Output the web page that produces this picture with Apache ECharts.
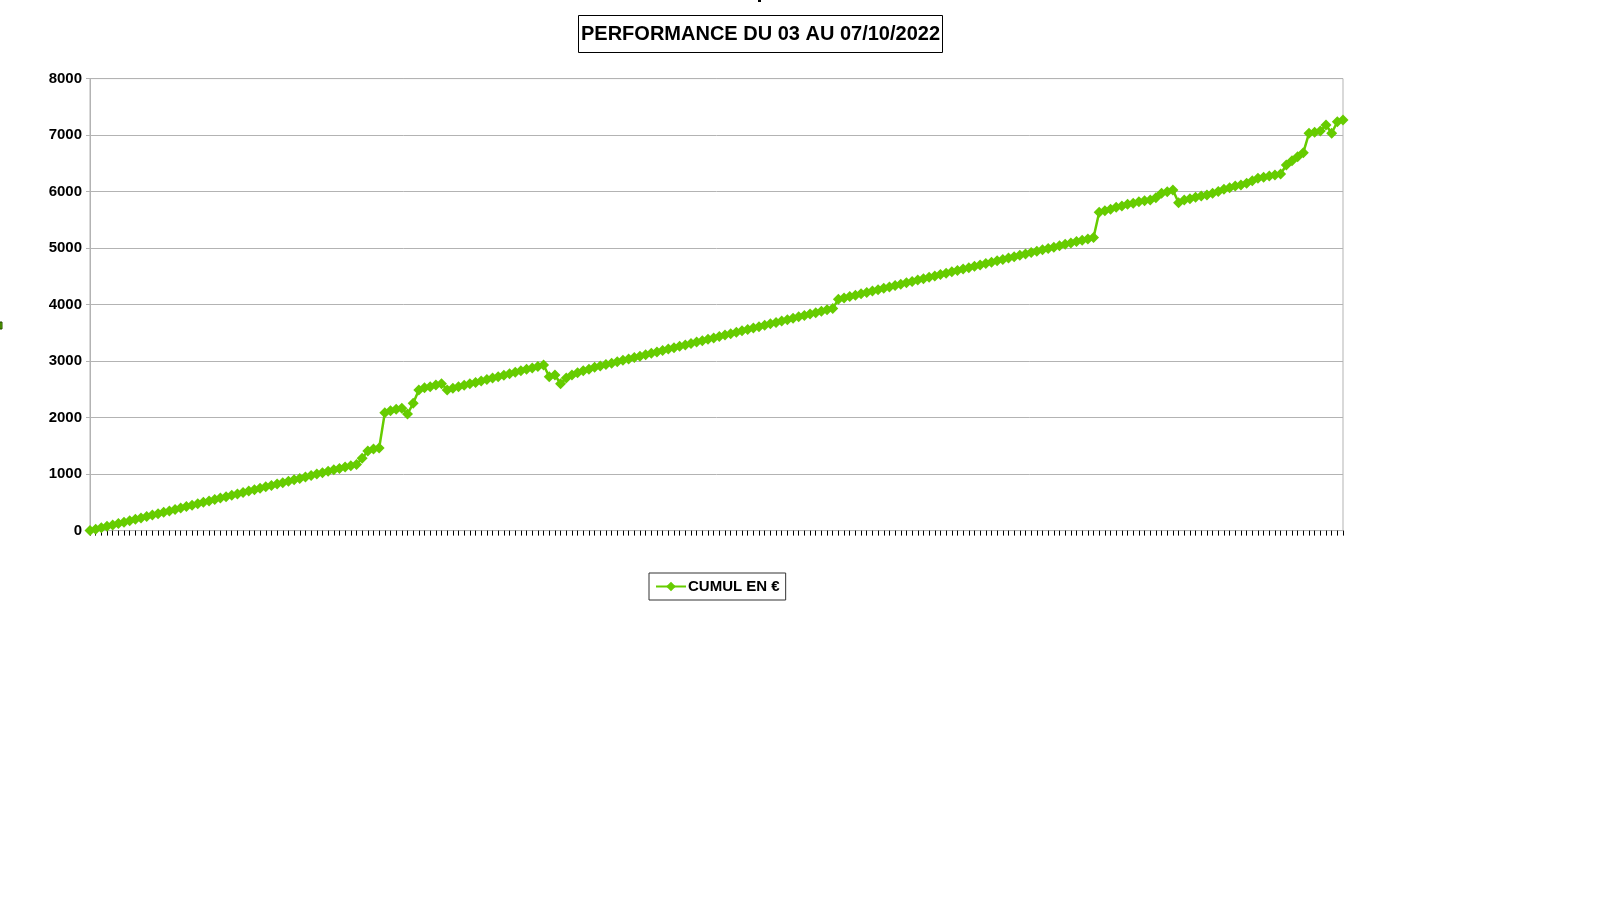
<!DOCTYPE html>
<html>
<head>
<meta charset="utf-8">
<script src="https://cdn.jsdelivr.net/npm/echarts@6/dist/echarts.min.js"></script>
<style>
html,body{margin:0;padding:0;background:#fff;}
#chart{width:1600px;height:900px;}
</style>
</head>
<body>
<div id="chart"></div>
<script>
const titleText = 'PERFORMANCE DU 03 AU 07/10/2022';
const seriesName = 'CUMUL EN €';
const yTicks = [0, 1000, 2000, 3000, 4000, 5000, 6000, 7000, 8000];
const cumul = [
  0, 24, 50, 75, 99, 124, 150, 175, 200, 224,
  249, 275, 300, 325, 349, 374, 400, 425, 449, 474,
  500, 524, 549, 575, 600, 624, 649, 675, 700, 724,
  749, 775, 800, 824, 849, 875, 900, 924, 949, 975,
  1000, 1024, 1049, 1075, 1100, 1124, 1149, 1170, 1280, 1410,
  1445, 1460, 2087, 2120, 2147, 2165, 2064, 2253, 2488, 2529,
  2547, 2577, 2600, 2490, 2518, 2545, 2571, 2597, 2622, 2648,
  2674, 2700, 2725, 2751, 2777, 2802, 2828, 2854, 2880, 2905,
  2931, 2724, 2754, 2600, 2700, 2755, 2795, 2830, 2855, 2890,
  2915, 2940, 2964, 2989, 3014, 3039, 3064, 3088, 3113, 3138,
  3163, 3188, 3212, 3237, 3262, 3287, 3312, 3336, 3361, 3386,
  3411, 3436, 3460, 3485, 3510, 3535, 3560, 3584, 3609, 3634,
  3659, 3684, 3708, 3733, 3758, 3783, 3808, 3832, 3857, 3882,
  3907, 3932, 4094, 4118, 4143, 4167, 4191, 4216, 4240, 4264,
  4288, 4313, 4337, 4361, 4386, 4410, 4434, 4459, 4483, 4507,
  4531, 4556, 4580, 4604, 4629, 4653, 4677, 4702, 4726, 4750,
  4774, 4799, 4823, 4847, 4872, 4896, 4920, 4945, 4969, 4993,
  5017, 5042, 5066, 5090, 5115, 5139, 5163, 5188, 5634, 5662,
  5686, 5722, 5745, 5775, 5792, 5822, 5840, 5851, 5892, 5970,
  5999, 6028, 5804, 5851, 5875, 5899, 5922, 5940, 5970, 6000,
  6040, 6070, 6099, 6117, 6147, 6193, 6235, 6252, 6276, 6294,
  6311, 6471, 6547, 6618, 6689, 7032, 7050, 7073, 7179, 7032,
  7237, 7267
];
const categories = cumul.map((v, i) => String(i + 1));

const GREEN = '#66cc00';
const GRID = '#b3b3b3';
const FONT = '"Liberation Sans", Arial, sans-serif';

const chart = echarts.init(document.getElementById('chart'), null, {renderer: 'canvas'});
chart.setOption({
  animation: false,
  backgroundColor: '#ffffff',
  title: {
    text: titleText,
    left: 578,
    top: 15,
    padding: [9, 3, 9, 3],
    borderColor: '#000',
    borderWidth: 1,
    textStyle: {fontFamily: FONT, fontSize: 20, fontWeight: 'bold', color: '#000'}
  },
  legend: {
    data: [seriesName],
    left: 649,
    top: 573,
    padding: [6, 6, 6, 6],
    borderColor: '#333',
    borderWidth: 1,
    itemWidth: 30,
    itemHeight: 12,
    itemGap: 4,
    textStyle: {fontFamily: FONT, fontSize: 15, fontWeight: 'bold', color: '#000', padding: [0, 0, 0, -3]}
  },
  grid: {
    left: 90, right: 257, top: 78.6, bottom: 369.4,
    show: true, borderColor: GRID, borderWidth: 1, backgroundColor: 'transparent'
  },
  xAxis: {
    type: 'category',
    data: categories,
    boundaryGap: false,
    axisLine: {show: true, lineStyle: {color: GRID, width: 1}},
    axisTick: {show: true, interval: 0, length: 5, inside: false, lineStyle: {color: '#000', width: 1}},
    axisLabel: {show: false},
    splitLine: {show: false}
  },
  yAxis: {
    type: 'value',
    min: yTicks[0],
    max: yTicks[yTicks.length - 1],
    interval: yTicks[1] - yTicks[0],
    axisLine: {show: true, lineStyle: {color: GRID}},
    axisTick: {show: true, length: 4, lineStyle: {color: GRID}},
    axisLabel: {margin: 8, fontFamily: FONT, fontSize: 15, fontWeight: 'bold', color: '#000',
      formatter: function (v) { return String(v); }},
    splitLine: {show: true, lineStyle: {color: GRID, width: 1}}
  },
  series: [{
    name: seriesName,
    type: 'line',
    data: cumul,
    symbol: 'diamond',
    symbolSize: 11,
    showSymbol: true,
    showAllSymbol: true,
    lineStyle: {color: GREEN, width: 2.5},
    itemStyle: {color: GREEN, borderWidth: 0},
    emphasis: {disabled: true}
  }],
  graphic: [
    {type: 'rect', shape: {x: 758, y: 0, width: 3, height: 2}, style: {fill: '#000'}},
    {type: 'rect', shape: {x: 0, y: 322, width: 2, height: 7}, style: {fill: GREEN, stroke: '#224400', lineWidth: 1}}
  ]
});
</script>
</body>
</html>
